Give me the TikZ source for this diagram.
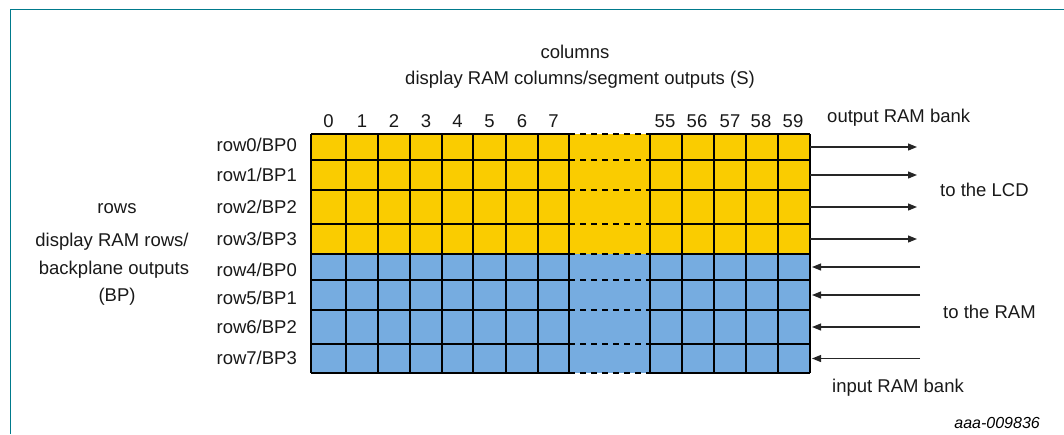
\documentclass[tikz,border=0pt]{standalone}
\usepackage{fontspec}
\setmainfont{Liberation Sans}
\usetikzlibrary{arrows.meta}
\definecolor{ramyellow}{RGB}{250,204,0}
\definecolor{ramblue}{RGB}{118,172,224}
\definecolor{frameteal}{RGB}{0,122,140}
\begin{document}
\begin{tikzpicture}[x=1pt,y=-1pt,
  lbl/.style={font=\fontsize{18.5}{22}\selectfont, inner sep=0pt, text=black!90},
  gridline/.style={line width=1.3pt, black},
  gapline/.style={line width=1.3pt, black, dash pattern=on 6pt off 5pt},
  flow/.style={line width=1.2pt, black!85, -{Triangle[length=9pt,width=7pt]}},
  frameline/.style={line width=1.4pt, frameteal},
]
\useasboundingbox (0,0) rectangle (1064,434);
% frame
\draw[frameline] (10.5,434) -- (10.5,9.3) -- (1064,9.3);

% cell fills
\fill[ramyellow] (311,134) rectangle (810,254);
\fill[ramblue] (311,254) rectangle (810,373);

% horizontal grid lines
\foreach \y in {134,160,190,224,254,280,310,344,373}{
  \draw[gridline] (311,\y) -- (569,\y);
  \draw[gridline] (650,\y) -- (810,\y);
  \draw[gapline] (569,\y) -- (650,\y);
}
% vertical grid lines
\foreach \x in {311,346,378,410,442,473,506,538,569,650,682,714,746,778,810}{
  \draw[gridline] (\x,134) -- (\x,373);
}

% column numbers
\foreach \n/\cx in {0/328.5,1/362,2/394,3/426,4/457.5,5/489.5,6/522,7/553.5,55/665,56/697,57/730,58/761,59/793}{
  \node[lbl, anchor=base] (col\n) at (\cx,127) {\n};
}

% row labels
\foreach \r/\b/\by in {0/0/151.6,1/1/181.6,2/2/213.6,3/3/245.6,4/0/276.6,5/1/304.6,6/2/333.6,7/3/364.6}{
  \node[lbl, anchor=base east] (row\r) at (297,\by) {row\r/BP\b};
}

% titles
\node[lbl, anchor=base] (coltitle) at (575,58) {columns};
\node[lbl, anchor=base] (colsub) at (580,84) {display RAM columns/segment outputs (S)};

\node[lbl, anchor=base] (rowtitle) at (117,213) {rows};
\node[lbl, anchor=base] (rowsub1) at (112,246) {display RAM rows/};
\node[lbl, anchor=base] (rowsub2) at (114,274) {backplane outputs};
\node[lbl, anchor=base] (rowsub3) at (117,301) {(BP)};

% right-hand labels
\node[lbl, anchor=base west] (outbank) at (827,122) {output RAM bank};
\node[lbl, anchor=base west] (tolcd) at (940,196) {to the LCD};
\node[lbl, anchor=base west] (toram) at (943,318) {to the RAM};
\node[lbl, anchor=base west] (inbank) at (832,392) {input RAM bank};
\node[inner sep=0pt, font=\fontsize{16}{19}\selectfont\itshape, anchor=base east] (docid) at (1040,428) {aaa-009836};

% arrows out
\foreach \i/\y in {0/147,1/175,2/207,3/239}{
  \coordinate (os\i) at (810,\y);
  \coordinate (oe\i) at (917,\y);
  \draw[flow] (os\i) -- (oe\i);
}
% arrows in
\foreach \i/\y in {4/267,5/295,6/327,7/358.5}{
  \coordinate (is\i) at (920,\y);
  \coordinate (ie\i) at (812,\y);
  \draw[flow] (is\i) -- (ie\i);
}
\end{tikzpicture}
\end{document}
